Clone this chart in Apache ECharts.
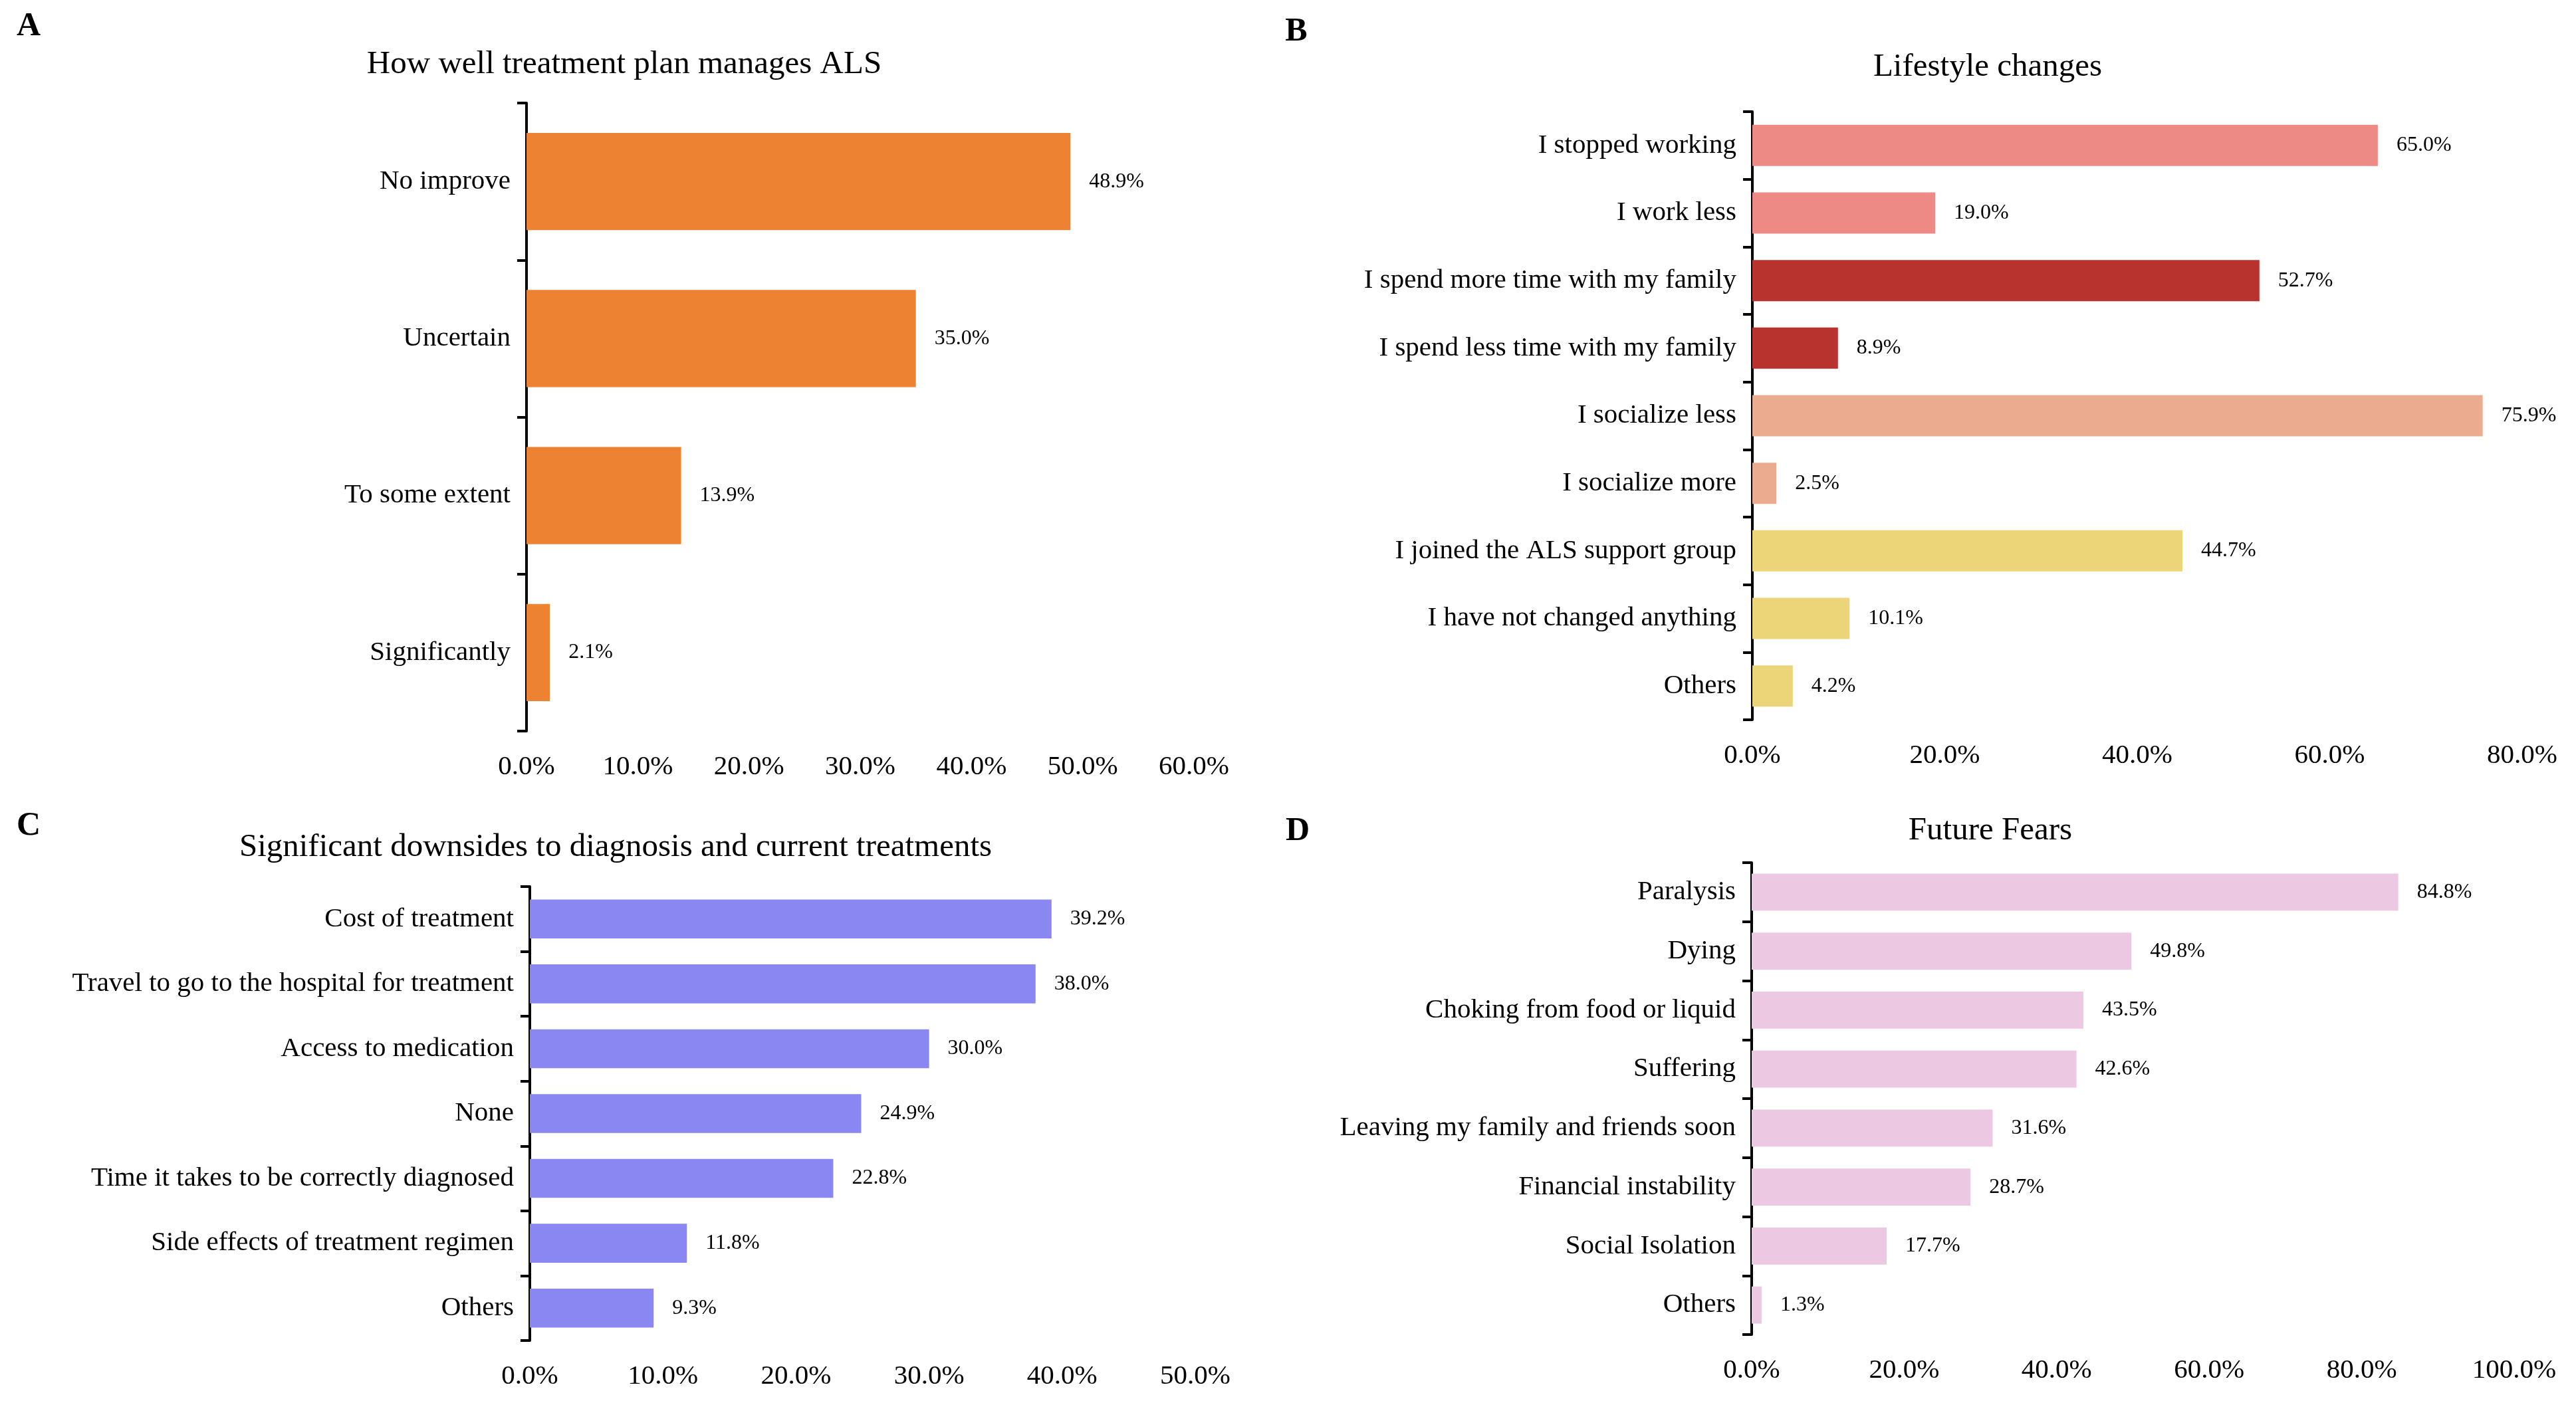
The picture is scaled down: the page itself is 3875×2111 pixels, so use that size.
<!DOCTYPE html>
<html>
<head>
<meta charset="utf-8">
<script src="https://cdn.jsdelivr.net/npm/echarts@6/dist/echarts.min.js"></script>
<style>
  html, body { margin: 0; padding: 0; background: #fff; }
  #chart { width: 3875px; height: 2111px; }
</style>
</head>
<body>
<div id="chart"></div>
<script>
// panel A
var catsA = ['No improve', 'Uncertain', 'To some extent', 'Significantly'];
var valsA = [48.9, 35.0, 13.9, 2.1];

// panel B
var catsB = ['I stopped working', 'I work less', 'I spend more time with my family',
	'I spend less time with my family', 'I socialize less', 'I socialize more',
	'I joined the ALS support group', 'I have not changed anything', 'Others'];
var valsB = [65.0, 19.0, 52.7, 8.9, 75.9, 2.5, 44.7, 10.1, 4.2];

// panel C
var catsC = ['Cost of treatment', 'Travel to go to the hospital for treatment',
	'Access to medication', 'None', 'Time it takes to be correctly diagnosed',
	'Side effects of treatment regimen', 'Others'];
var valsC = [39.2, 38.0, 30.0, 24.9, 22.8, 11.8, 9.3];

// panel D
var catsD = ['Paralysis', 'Dying', 'Choking from food or liquid', 'Suffering',
	'Leaving my family and friends soon', 'Financial instability', 'Social Isolation', 'Others'];
var valsD = [84.8, 49.8, 43.5, 42.6, 31.6, 28.7, 17.7, 1.3];

// bar colours of panel B, one per category
var colorsB = ['#EE8A86', '#EE8A86', '#B8332D', '#B8332D', '#EBAB8F', '#EBAB8F',
	'#ECD479', '#ECD479', '#ECD479'];

var FONT = '"Liberation Serif", "Times New Roman", serif';

var chart = echarts.init(document.getElementById('chart'));

var panels = [
	{ cats: catsA, vals: valsA, color: '#ED8332', max: 60, step: 10, gap: '38%',
		grid: { left: 792, top: 155, width: 1004, height: 945 } },
	{ cats: catsB, vals: valsB, colors: colorsB, max: 80, step: 20, gap: '39%',
		grid: { left: 2636, top: 168, width: 1158, height: 915 } },
	{ cats: catsC, vals: valsC, color: '#8A87F2', max: 50, step: 10, gap: '40%',
		grid: { left: 797, top: 1334, width: 1001, height: 683 } },
	{ cats: catsD, vals: valsD, color: '#EDC8E3', max: 100, step: 20, gap: '37%',
		grid: { left: 2635, top: 1298, width: 1147, height: 710 } }
];

var grids = [], xAxes = [], yAxes = [], series = [];

panels.forEach((p, i) => {
	grids.push(p.grid);

	xAxes.push({
		type: 'value',
		gridIndex: i,
		min: 0,
		max: p.max,
		interval: p.step,
		axisLine: { show: false },
		axisTick: { show: false },
		splitLine: { show: false },
		axisLabel: {
			margin: 34,
			fontFamily: FONT,
			fontSize: 41,
			color: '#000',
			formatter: v => v.toFixed(1) + '%'
		}
	});

	yAxes.push({
		type: 'category',
		gridIndex: i,
		data: p.cats,
		inverse: true,
		axisLine: { show: true, lineStyle: { color: '#000', width: 4 } },
		axisTick: { show: true, length: 14, lineStyle: { color: '#000', width: 4 } },
		axisLabel: {
			margin: 24,
			fontFamily: FONT,
			fontSize: 41,
			color: '#000'
		}
	});

	series.push({
		type: 'bar',
		xAxisIndex: i,
		yAxisIndex: i,
		barCategoryGap: p.gap,
		data: p.vals.map((v, k) => ({
			value: v,
			itemStyle: { color: p.colors ? p.colors[k] : p.color }
		})),
		label: {
			show: true,
			position: 'right',
			distance: 28,
			fontFamily: FONT,
			fontSize: 32,
			color: '#000',
			formatter: d => d.value.toFixed(1) + '%'
		},
		silent: true,
		animation: false
	});
});

var titleStyle = { fontFamily: FONT, fontSize: 49, fontWeight: 'normal', color: '#000' };
var letterStyle = { fontFamily: FONT, fontSize: 50, fontWeight: 'bold', color: '#000' };

var titles = [
	{ text: 'How well treatment plan manages ALS', left: 939, top: 73, textAlign: 'center', padding: 0, textStyle: titleStyle },
	{ text: 'Lifestyle changes', left: 2990, top: 77, textAlign: 'center', padding: 0, textStyle: titleStyle },
	{ text: 'Significant downsides to diagnosis and current treatments', left: 926, top: 1251, textAlign: 'center', padding: 0, textStyle: titleStyle },
	{ text: 'Future Fears', left: 2994, top: 1226, textAlign: 'center', padding: 0, textStyle: titleStyle },
	{ text: 'A', left: 43, top: 15, textAlign: 'center', padding: 0, textStyle: letterStyle },
	{ text: 'B', left: 1950, top: 23, textAlign: 'center', padding: 0, textStyle: letterStyle },
	{ text: 'C', left: 43, top: 1218, textAlign: 'center', padding: 0, textStyle: letterStyle },
	{ text: 'D', left: 1952, top: 1226, textAlign: 'center', padding: 0, textStyle: letterStyle }
];

chart.setOption({
	backgroundColor: '#fff',
	animation: false,
	title: titles,
	grid: grids,
	xAxis: xAxes,
	yAxis: yAxes,
	series: series
});
</script>
</body>
</html>
